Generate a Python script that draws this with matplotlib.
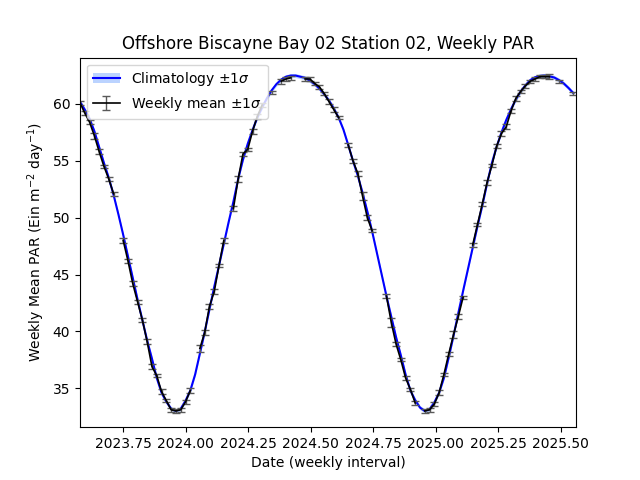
import numpy as np
import pandas as pd
import matplotlib
matplotlib.use("Agg")
import matplotlib.pyplot as plt

# ---- data -------------------------------------------------------------
week_start = pd.date_range("2023-07-31", periods=104, freq="7D")

clim_mean = [
    60.2, 59.5, 58.7, 57.6, 56.2, 54.8, 53.5, 52.0, 50.3, 48.5,
    46.6, 44.7, 42.8, 41.0, 39.2, 37.6, 35.9, 34.6, 33.8, 33.2,
    33.0, 33.2, 33.9, 34.8, 36.2, 38.05, 39.93, 41.93, 43.92, 45.8,
    47.7, 49.6, 51.4, 53.4, 55.1, 56.5, 57.7, 58.8, 59.7, 60.5,
    61.2, 61.75, 62.15, 62.4, 62.5, 62.5, 62.4, 62.3, 62.05, 61.75,
    61.35, 60.85, 60.3, 59.6, 58.8, 57.75, 56.4, 55.0, 53.7, 52.2,
    50.55, 48.8, 46.9, 45.0, 43.1, 41.3, 39.5, 37.9, 36.2, 34.8,
    33.95, 33.3, 33.0, 33.15, 33.75, 34.6, 35.9, 37.7, 39.6, 41.6,
    43.55, 45.45, 47.35, 49.25, 51.05, 53.0, 54.8, 56.25, 57.5, 58.6,
    59.55, 60.4, 61.1, 61.65, 62.1, 62.35, 62.47, 62.5, 62.43, 62.33,
    62.1, 61.8, 61.4, 60.95,
]
clim_std = [0.18] * 104

weekly_mean = [
    60.1, 59.2, 58.4, 57.2, 55.8, 54.5, 53.4, 52.1, None, 48.0,
    46.2, 44.2, 42.6, 41.0, 39.1, 36.9, 36.1, 34.7, 33.9, 33.1,
    33.0, 33.1, 33.8, 34.8, None, 38.5, 39.9, 42.2, 43.5, 45.8,
    48.0, None, 50.8, 53.4, 55.6, 56.0, 57.6, 58.9, 59.9, None,
    61.0, None, 62.0, 62.2, 62.3, None, None, 62.2, 62.2, 61.8,
    61.5, 60.9, 60.2, 59.5, 58.8, None, 56.4, 55.0, 53.9, 51.9,
    50.0, 48.85, None, None, 43.1, 40.8, 38.9, 37.5, 35.9, 34.9,
    33.7, None, 33.0, 33.1, 33.6, 34.6, 36.2, 38.0, 39.7, 41.3,
    43.0, None, 47.6, 49.4, 51.2, 53.1, 54.6, 56.3, 57.4, 58.0,
    59.4, 60.5, 61.1, 61.6, 62.0, 62.2, 62.4, 62.4, 62.4, None,
    62.0, None, None, 60.9,
]
weekly_std = [
    0.15, 0.2, 0.15, 0.25, 0.2, 0.15, 0.2, 0.15, None, 0.2,
    0.15, 0.2, 0.15, 0.2, 0.25, 0.2, 0.15, 0.2, 0.15, 0.15,
    0.2, 0.15, 0.2, 0.2, None, 0.3, 0.2, 0.25, 0.2, 0.15,
    0.2, None, 0.2, 0.25, 0.2, 0.15, 0.2, 0.25, 0.2, None,
    0.15, None, 0.2, 0.15, 0.15, None, None, 0.15, 0.2, 0.15,
    0.2, 0.15, 0.2, 0.2, 0.15, None, 0.2, 0.15, 0.2, 0.35,
    0.2, 0.15, None, None, 0.2, 0.4, 0.2, 0.15, 0.2, 0.15,
    0.2, None, 0.15, 0.2, 0.15, 0.2, 0.15, 0.2, 0.3, 0.2,
    0.15, None, 0.2, 0.15, 0.2, 0.2, 0.15, 0.2, 0.25, 0.2,
    0.15, 0.2, 0.15, 0.2, 0.15, 0.2, 0.15, 0.15, 0.2, None,
    0.15, None, None, 0.15,
]

# ---- convert dates to decimal years ------------------------------------
days_in_year = np.where(week_start.is_leap_year, 366, 365)
dec = week_start.year + (week_start.dayofyear - 1) / days_in_year
dec = np.asarray(dec, dtype=float)

cm = np.array(clim_mean, dtype=float)
cs = np.array(clim_std, dtype=float)
wm = np.array([np.nan if v is None else v for v in weekly_mean], dtype=float)
ws = np.array([np.nan if v is None else v for v in weekly_std], dtype=float)

# ---- plot -------------------------------------------------------------
fig, ax = plt.subplots(figsize=(6.4, 4.8), dpi=100)

band = ax.fill_between(dec, cm - cs, cm + cs, color="#1f6fff", alpha=0.3,
                       linewidth=0)
(cline,) = ax.plot(dec, cm, color="blue", lw=1.5)
eb = ax.errorbar(dec, wm, yerr=ws, fmt="-", color="black", lw=1.2,
                 ecolor="0.35", elinewidth=1, capsize=3, capthick=1)

ax.set_xlim(dec[0], 2025.561)
ax.set_ylim(31.57, 64.08)

ax.set_title("Offshore Biscayne Bay 02 Station 02, Weekly PAR")
ax.set_xlabel("Date (weekly interval)")
ax.set_ylabel("Weekly Mean PAR (Ein m$^{-2}$ day$^{-1}$)")

ax.legend([(band, cline), eb],
          ["Climatology \u00b11$\\sigma$", "Weekly mean \u00b11$\\sigma$"],
          loc="upper left")

fig.savefig("out.png", dpi=100)
